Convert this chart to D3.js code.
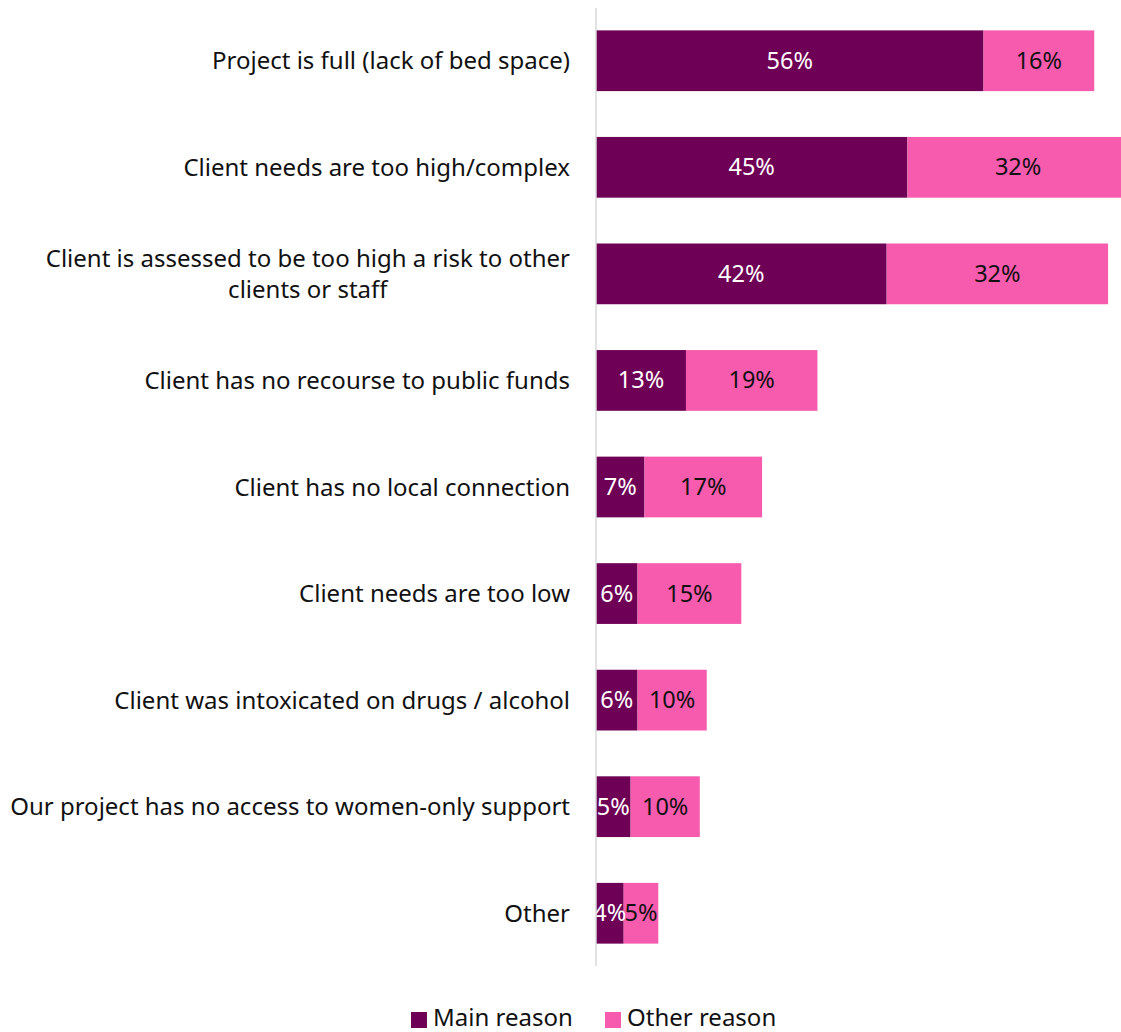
<!DOCTYPE html>
<html>
<head>
<meta charset="utf-8">
<script src="https://cdn.jsdelivr.net/npm/d3@7"></script>
<style>
  html, body { margin: 0; padding: 0; background: #fff; }
  svg { display: block; font-family: "Noto Sans", "Open Sans", sans-serif; }
</style>
</head>
<body>
<svg id="chart" width="1121" height="1032"></svg>
<script>
// Reasons a referral was turned away, share of projects (%)
const categories = [
  "Project is full (lack of bed space)",
  "Client needs are too high/complex",
  "Client is assessed to be too high a risk to other clients or staff",
  "Client has no recourse to public funds",
  "Client has no local connection",
  "Client needs are too low",
  "Client was intoxicated on drugs / alcohol",
  "Our project has no access to women-only support",
  "Other"
];
const mainReason  = [56, 45, 42, 13, 7, 6, 6, 5, 4];
const otherReason = [16, 32, 32, 19, 17, 15, 10, 10, 5];
const seriesNames = ["Main reason", "Other reason"];
const seriesColors = ["#6E0055", "#F65BAD"];
const labelColors = ["#ffffff", "#111111"];

const svg = d3.select("#chart");
const axisX = 596;
const plotTop = 8, plotBottom = 966;
const fontSize = 24;

const x = d3.scaleLinear().domain([0, 80]).range([axisX, axisX + 6.92 * 80]);
const y = d3.scaleBand().domain(categories).range([plotTop, plotBottom])
  .paddingInner(0.43).paddingOuter(0.21);

const rows = categories.map((c, i) => ({ cat: c, vals: [mainReason[i], otherReason[i]] }));

const segs = [];
rows.forEach(r => {
  let acc = 0;
  r.vals.forEach((v, k) => {
    segs.push({ cat: r.cat, k, v, x0: acc, x1: acc + v });
    acc += v;
  });
});

// stacked bars
svg.append("g").selectAll("rect").data(segs).join("rect")
  .attr("x", d => x(d.x0))
  .attr("y", d => y(d.cat))
  .attr("width", d => x(d.x1) - x(d.x0))
  .attr("height", y.bandwidth())
  .attr("fill", d => seriesColors[d.k]);

// value labels centred in each segment
svg.append("g").selectAll("text").data(segs).join("text")
  .attr("x", d => (x(d.x0) + x(d.x1)) / 2)
  .attr("y", d => y(d.cat) + y.bandwidth() / 2 - 1)
  .attr("text-anchor", "middle")
  .attr("dominant-baseline", "central")
  .attr("font-size", 23.5)
  .attr("fill", d => labelColors[d.k])
  .text(d => d.v + "%");

// vertical axis line
svg.append("line")
  .attr("x1", axisX).attr("x2", axisX)
  .attr("y1", plotTop).attr("y2", plotBottom)
  .attr("stroke", "#d9d9d9").attr("stroke-width", 1.5);

// category labels, wrapped when too wide
const maxW = 565;
const labelG = svg.append("g");
categories.forEach(c => {
  const cy = y(c) + y.bandwidth() / 2 - 1;
  const t = labelG.append("text")
    .attr("font-size", fontSize).attr("fill", "#111");
  const words = c.split(" ");
  const lines = [];
  let line = [];
  const probe = t.append("tspan");
  words.forEach(w => {
    line.push(w);
    probe.text(line.join(" "));
    if (probe.node().getComputedTextLength() > maxW && line.length > 1) {
      line.pop();
      lines.push(line.join(" "));
      line = [w];
    }
  });
  lines.push(line.join(" "));
  probe.remove();
  if (lines.length === 1) {
    t.attr("x", 570).attr("y", cy).attr("text-anchor", "end")
      .attr("dominant-baseline", "central").text(lines[0]);
  } else {
    // multi-line labels are centred on the widest line
    const tmp = t.append("tspan").text(lines[0]);
    const w0 = tmp.node().getComputedTextLength();
    tmp.remove();
    const cx = 570 - w0 / 2;
    const lh = 31;
    lines.forEach((l, i) => {
      t.append("tspan")
        .attr("x", cx)
        .attr("y", cy + (i - (lines.length - 1) / 2) * lh)
        .attr("text-anchor", "middle")
        .attr("dominant-baseline", "central")
        .text(l);
    });
  }
});

// legend
const legendX = [411, 605];
const lg = svg.append("g");
seriesNames.forEach((name, i) => {
  lg.append("rect")
    .attr("x", legendX[i]).attr("y", 1012)
    .attr("width", 16).attr("height", 16)
    .attr("fill", seriesColors[i]);
  lg.append("text")
    .attr("x", legendX[i] + 22).attr("y", 1026)
    .attr("font-size", fontSize).attr("fill", "#111")
    .text(name);
});
</script>
</body>
</html>
